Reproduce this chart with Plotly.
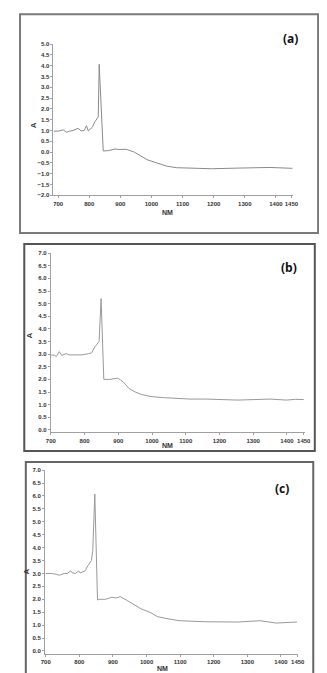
import plotly.graph_objects as go

W, H = 327, 673

# ---------------- data ----------------
wl_a = [685, 701, 716, 727, 737, 748, 764, 774, 784, 791, 797, 810, 818, 824, 829, 832,
        845, 862, 885, 893, 919, 945, 986, 1017, 1049, 1080, 1132, 1194, 1277, 1381, 1453]
abs_a = [0.97, 0.97, 1.03, 0.92, 0.97, 1.0, 1.1, 0.98, 1.0, 1.22, 0.98, 1.15, 1.4, 1.5, 1.63, 4.06,
         0.05, 0.07, 0.15, 0.12, 0.13, 0.0, -0.35, -0.5, -0.65, -0.72, -0.75, -0.77, -0.74, -0.71, -0.75]

wl_b = [700, 711, 716, 725, 732, 745, 755, 778, 792, 812, 821, 831, 837, 843, 849, 857, 875,
        893, 898, 907, 916, 931, 950, 969, 997, 1030, 1064, 1112, 1160, 1210, 1255, 1302,
        1350, 1398, 1426, 1450]
abs_b = [2.97, 2.95, 2.9, 3.1, 2.95, 3.02, 2.97, 2.97, 2.97, 3.02, 3.05, 3.3, 3.4, 3.5, 5.2, 2.0, 2.0,
         2.02, 2.05, 1.97, 1.88, 1.65, 1.5, 1.4, 1.32, 1.28, 1.25, 1.22, 1.22, 1.2, 1.18, 1.2,
         1.22, 1.18, 1.21, 1.2]

wl_c = [700, 716, 731, 740, 755, 764, 774, 778, 788, 798, 802, 817, 823, 831, 836, 840, 846,
        854, 859, 878, 888, 897, 908, 922, 936, 955, 984, 1013, 1032, 1061, 1099, 1175,
        1271, 1338, 1386, 1448]
abs_c = [3.0, 3.0, 2.97, 2.93, 3.0, 3.0, 3.1, 3.03, 3.0, 3.1, 3.02, 3.1, 3.25, 3.4, 3.5, 3.9, 6.08,
         1.97, 2.0, 2.0, 2.05, 2.08, 2.05, 2.1, 2.0, 1.85, 1.63, 1.48, 1.33, 1.25, 1.17, 1.13,
         1.12, 1.17, 1.08, 1.12]

x_ticks = [700, 800, 900, 1000, 1100, 1200, 1300, 1400, 1450]
panel_labels = ["(a)", "(b)", "(c)"]
x_title = "NM"
y_title = "A"

# ---------------- layout helpers ----------------
def px_x(x):
    return x / W

def px_y(y):
    return 1 - y / H

line_col = "#999999"
axis_col = "#a0a0a0"
tick_font = dict(family="Liberation Sans", size=6, color="#333333", weight="bold")

fig = go.Figure()
for i, (wl, ab) in enumerate([(wl_a, abs_a), (wl_b, abs_b), (wl_c, abs_c)]):
    fig.add_trace(go.Scatter(x=wl, y=ab, mode="lines",
                             line=dict(color=line_col if i else "#8a8a8a", width=1),
                             xaxis="x" if i == 0 else f"x{i+1}",
                             yaxis="y" if i == 0 else f"y{i+1}",
                             showlegend=False, hoverinfo="skip"))

# panel geometry (pixels)
panels = [
    dict(x0=42, x1=291, yt=33.3, yb=186, xr=[685, 1456], yr=[-2, 5], ydt=0.5),
    dict(x0=39.3, x1=303.6, yt=244.3, yb=425.2, xr=[700, 1455], yr=[-0.1, 7], ydt=0.5),
    dict(x0=33.3, x1=296.3, yt=463.3, yb=648.3, xr=[698, 1452], yr=[-0.1, 7], ydt=0.5),
]

layout = dict(width=W, height=H, margin=dict(l=0, r=0, t=0, b=0),
              paper_bgcolor="white", plot_bgcolor="white", showlegend=False)

for i, p in enumerate(panels):
    xn = "xaxis" if i == 0 else f"xaxis{i+1}"
    yn = "yaxis" if i == 0 else f"yaxis{i+1}"
    ya = "y" if i == 0 else f"y{i+1}"
    xa = "x" if i == 0 else f"x{i+1}"
    layout[xn] = dict(domain=[px_x(p["x0"]), px_x(p["x1"])], range=p["xr"], anchor=ya,
                      tickvals=x_ticks, ticktext=[str(t) for t in x_ticks], tickangle=0,
                      showgrid=False, zeroline=False, showline=True, linecolor=axis_col,
                      linewidth=1, ticks="outside", ticklen=2, tickcolor=axis_col,
                      tickfont=tick_font, fixedrange=True)
    layout[yn] = dict(domain=[px_y(p["yb"]), px_y(p["yt"])], range=p["yr"], anchor=xa,
                      tick0=0, dtick=p["ydt"], tickformat=".1f",
                      showgrid=False, zeroline=False, showline=True, linecolor=axis_col,
                      linewidth=1, ticks="outside", ticklen=2, tickcolor=axis_col,
                      tickfont=tick_font, fixedrange=True)

fig.update_layout(**layout)

# borders
borders = [
    dict(x0=7.3, x1=316.7, y0=3.3, y1=224, c="#7a7a7a"),
    dict(x0=11.7, x1=313.3, y0=235, y1=444, c="#555555"),
    dict(x0=13.3, x1=311.7, y0=455, y1=669, c="#666666"),
]
for b in borders:
    fig.add_shape(type="rect", xref="paper", yref="paper",
                  x0=px_x(b["x0"]), x1=px_x(b["x1"]), y0=px_y(b["y1"]), y1=px_y(b["y0"]),
                  line=dict(color=b["c"], width=2), fillcolor="rgba(0,0,0,0)")

# titles and panel labels
texts = [
    ((22, 115), (160, 203), (288, 28)),
    ((17, 327), (160, 438), (286, 259)),
    ((15, 565), (155, 663), (279, 482)),
]
for i, (a_pos, nm_pos, lab_pos) in enumerate(texts):
    fig.add_annotation(x=px_x(a_pos[0]), y=px_y(a_pos[1]), xref="paper", yref="paper",
                       text=f"<b>{y_title}</b>", showarrow=False, textangle=-90,
                       font=dict(family="Liberation Sans", size=8, color="#333333"),
                       xanchor="center", yanchor="middle")
    fig.add_annotation(x=px_x(nm_pos[0]), y=px_y(nm_pos[1]), xref="paper", yref="paper",
                       text=f"<b>{x_title}</b>", showarrow=False,
                       font=dict(family="Liberation Sans", size=7, color="#333333"),
                       xanchor="center", yanchor="middle")
    fig.add_annotation(x=px_x(lab_pos[0]), y=px_y(lab_pos[1]), xref="paper", yref="paper",
                       text=f"<b>{panel_labels[i]}</b>", showarrow=False,
                       font=dict(family="Open Sans", size=12, color="#111111"),
                       xanchor="center", yanchor="middle")

fig.write_html("out.html")
